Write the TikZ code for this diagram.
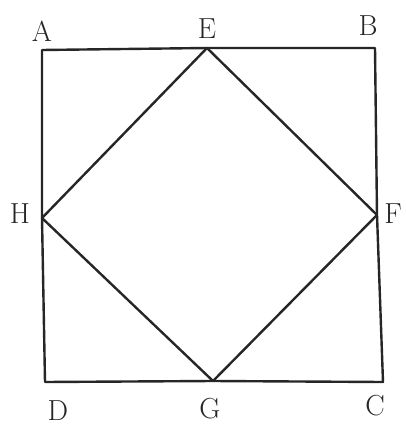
\documentclass[tikz,border=0pt]{standalone}
\begin{document}
\begin{tikzpicture}[x=1pt,y=-1pt,
  edge/.style={line width=2.4pt,draw=black!85,line join=round},
  lbl/.style={font=\fontsize{29}{31}\selectfont, text=black!85, inner sep=0pt}]
\useasboundingbox (0,0) rectangle (405,428);
\coordinate (A) at (42,50);
\coordinate (B) at (375,48);
\coordinate (C) at (383,382);
\coordinate (D) at (45,382);
\coordinate (E) at (207,48);
\coordinate (F) at (377,215);
\coordinate (G) at (213,381);
\coordinate (H) at (42,218);
\draw[edge] (A) -- (E) -- (B) -- (F) -- (C) -- (G) -- (D) -- (H) -- cycle;
\draw[edge] (E) -- (F) -- (G) -- (H) -- cycle;
\node[lbl] (lA) at (42,31) {A};
\node[lbl] (lE) at (207,29) {E};
\node[lbl] (lB) at (368,26) {B};
\node[lbl] (lH) at (20,214) {H};
\node[lbl] (lF) at (393,214) {F};
\node[lbl] (lD) at (58,411) {D};
\node[lbl] (lG) at (210,409) {G};
\node[lbl] (lC) at (375,406) {C};
\end{tikzpicture}
\end{document}
